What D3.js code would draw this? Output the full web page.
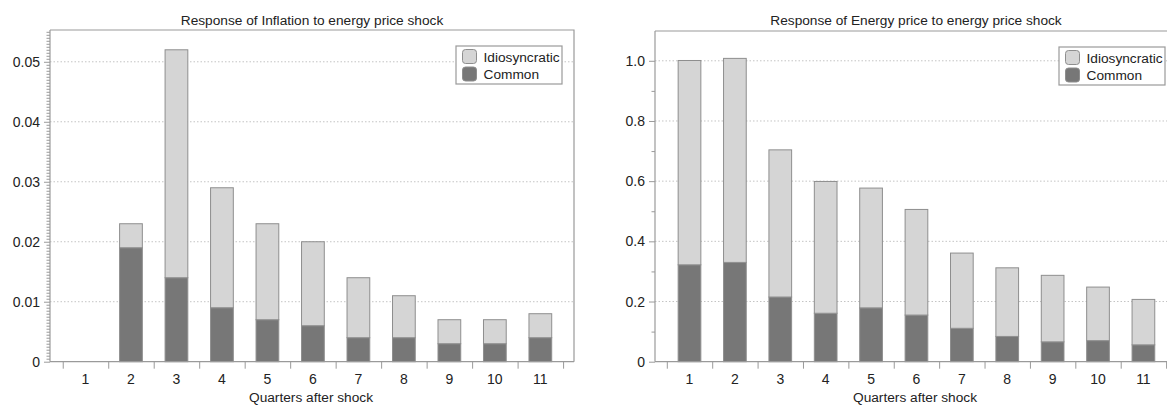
<!DOCTYPE html>
<html>
<head>
<meta charset="utf-8">
<script src="https://cdn.jsdelivr.net/npm/d3@7"></script>
<style>
  html, body { margin: 0; padding: 0; background: #fff; overflow: hidden; }
  svg { display: block; }
  text { font-family: "Liberation Sans", Arial, Helvetica, sans-serif; fill: #222; }
</style>
</head>
<body>
<script>
// ---- data ----
const quarters = [1, 2, 3, 4, 5, 6, 7, 8, 9, 10, 11];
const seriesNames = ["Idiosyncratic", "Common"];

// Panel 1: Response of Inflation to energy price shock
const inflTotal  = [0, 0.023, 0.052, 0.029, 0.023, 0.020, 0.014, 0.011, 0.007, 0.007, 0.008];
const inflCommon = [0, 0.019, 0.014, 0.009, 0.007, 0.006, 0.004, 0.004, 0.003, 0.003, 0.004];
const inflTicks  = [0, 0.01, 0.02, 0.03, 0.04, 0.05];
const inflTickLabels = ["0", "0.01", "0.02", "0.03", "0.04", "0.05"];

// Panel 2: Response of Energy price to energy price shock
const enTotal  = [1.001, 1.008, 0.704, 0.599, 0.577, 0.506, 0.361, 0.312, 0.287, 0.248, 0.207];
const enCommon = [0.322, 0.330, 0.215, 0.161, 0.179, 0.155, 0.111, 0.084, 0.066, 0.070, 0.056];
const enTicks  = [0, 0.2, 0.4, 0.6, 0.8, 1.0];
const enTickLabels = ["0", "0.2", "0.4", "0.6", "0.8", "1.0"];

const titles = ["Response of Inflation to energy price shock", "Response of Energy price to energy price shock"];
const xLabel = "Quarters after shock";

// ---- drawing ----
const W = 1167, H = 405;
const svg = d3.select("body").append("svg").attr("width", W).attr("height", H);

const colors = { light: "#d5d5d5", dark: "#777777", stroke: "#8e8e8e", axis: "#9a9a9a", grid: "#c4c4c4" };

function panel(cfg) {
  const g = svg.append("g");
  const x = d3.scaleLinear().domain(cfg.xDomain).range([cfg.left, cfg.right]);
  const y = d3.scaleLinear().domain(cfg.yDomain).range([cfg.bottom, cfg.top]);

  // grid
  g.selectAll("line.grid").data(cfg.ticks.filter(t => t > 0)).join("line")
    .attr("x1", cfg.left).attr("x2", cfg.right)
    .attr("y1", d => y(d)).attr("y2", d => y(d))
    .attr("stroke", colors.grid).attr("stroke-width", 1).attr("stroke-dasharray", "1.5,2");

  // frame top / right
  g.append("path")
    .attr("d", `M${cfg.left},${cfg.top}H${cfg.right}V${cfg.bottom}`)
    .attr("fill", "none").attr("stroke", colors.axis).attr("stroke-width", 1.2);

  // data
  const rows = quarters.map((q, i) => ({ q, common: cfg.common[i], total: cfg.total[i] }));
  const stack = d3.stack().keys(["common", "idio"])(rows.map(r => ({ q: r.q, common: r.common, idio: r.total - r.common })));
  const bw = (x(1.5) - x(0.5)) * 0.5;
  const fills = [colors.dark, colors.light];
  stack.forEach((layer, li) => {
    g.selectAll(null).data(layer.filter(d => d[1] - d[0] > 0)).join("rect")
      .attr("x", d => x(d.data.q) - bw / 2)
      .attr("width", bw)
      .attr("y", d => y(d[1]))
      .attr("height", d => y(d[0]) - y(d[1]))
      .attr("fill", fills[li])
      .attr("stroke", colors.stroke).attr("stroke-width", 1);
  });

  // y axis
  const yAxis = d3.axisLeft(y).tickValues(cfg.ticks)
    .tickFormat((d, i) => cfg.tickLabels[i]).tickSize(6).tickPadding(4);
  const ya = g.append("g").attr("transform", `translate(${cfg.left},0)`).call(yAxis);
  ya.select(".domain").attr("stroke", colors.axis).attr("stroke-width", 1.2).attr("d", `M0,${cfg.top}V${cfg.bottom}`);
  ya.selectAll(".tick line").attr("stroke", colors.axis);
  ya.selectAll(".tick text").style("font-size", "14px").attr("fill", "#222");
  const yMinor = d3.axisLeft(y).tickValues(d3.range(cfg.minorStep, cfg.yDomain[1], cfg.minorStep)
      .filter(v => !cfg.ticks.some(t => Math.abs(t - v) < 1e-9)))
    .tickFormat("").tickSize(3.5);
  const ym = g.append("g").attr("transform", `translate(${cfg.left},0)`).call(yMinor);
  ym.select(".domain").remove();
  ym.selectAll(".tick line").attr("stroke", colors.axis);

  // x axis
  const boundaries = d3.range(0.5, 12, 1);
  const xAxis = d3.axisBottom(x).tickValues(boundaries).tickFormat("").tickSize(7);
  const xa = g.append("g").attr("transform", `translate(0,${cfg.bottom})`).call(xAxis);
  xa.select(".domain").attr("stroke", colors.axis).attr("stroke-width", 1.2).attr("d", `M${cfg.left},0H${cfg.right}`);
  xa.selectAll(".tick line").attr("stroke", colors.axis);
  g.selectAll(null).data(quarters).join("text")
    .attr("x", d => x(d)).attr("y", cfg.bottom + 22)
    .attr("text-anchor", "middle").style("font-size", "14px").text(d => d);

  // title & label
  g.append("text").attr("x", (cfg.left + cfg.right) / 2).attr("y", 25)
    .attr("text-anchor", "middle").style("font-size", "13.7px").text(cfg.title);
  g.append("text").attr("x", (cfg.left + cfg.right) / 2 - 1).attr("y", 402)
    .attr("text-anchor", "middle").style("font-size", "13.7px").text(xLabel);

  // legend
  const lw = 106, lh = 38;
  const lx = cfg.right - 12 - lw, ly = cfg.top + 16;
  const lg = g.append("g").attr("transform", `translate(${lx},${ly})`);
  lg.append("rect").attr("width", lw).attr("height", lh).attr("fill", "#fff")
    .attr("stroke", colors.axis).attr("stroke-width", 1.2);
  const legendFills = [colors.light, colors.dark];
  seriesNames.forEach((name, i) => {
    lg.append("rect").attr("x", 6.5).attr("y", 3.5 + i * 17.5).attr("width", 14).attr("height", 14)
      .attr("rx", 3).attr("fill", legendFills[i]).attr("stroke", colors.stroke);
    lg.append("text").attr("x", 27.5).attr("y", 15.5 + i * 17.5)
      .style("font-size", "13.7px").text(name);
  });
}

panel({
  left: 50, right: 574, top: 30, bottom: 361.7,
  xDomain: [0.22, 11.74], yDomain: [0, 0.0553],
  ticks: inflTicks, tickLabels: inflTickLabels, minorStep: 0.0005,
  total: inflTotal, common: inflCommon, title: titles[0]
});
panel({
  left: 655, right: 1177, top: 31, bottom: 361.7,
  xDomain: [0.24, 11.74], yDomain: [0, 1.099],
  ticks: enTicks, tickLabels: enTickLabels, minorStep: 0.1,
  total: enTotal, common: enCommon, title: titles[1]
});
</script>
</body>
</html>
